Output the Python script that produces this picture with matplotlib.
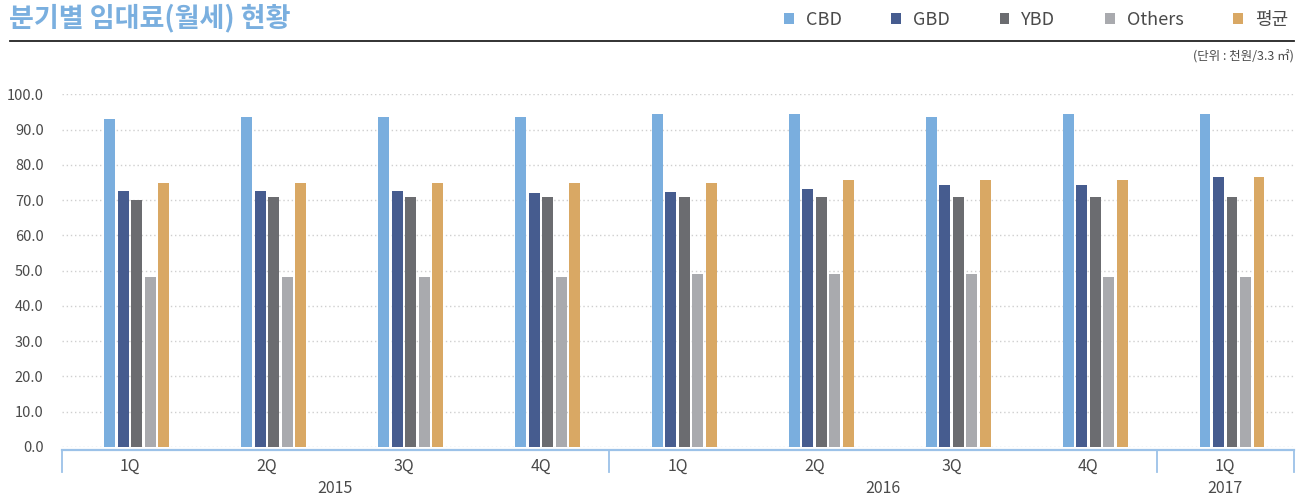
import numpy as np
import matplotlib
matplotlib.use('Agg')
import matplotlib.pyplot as plt
from matplotlib.patches import Patch

plt.rcParams['font.family'] = ['Noto Sans CJK KR', 'DejaVu Sans']

quarters = ['1Q', '2Q', '3Q', '4Q', '1Q', '2Q', '3Q', '4Q', '1Q']
years = ['2015', '2016', '2017']
year_spans = [(0, 3), (4, 7), (8, 8)]

series_names = ['CBD', 'GBD', 'YBD', 'Others', '평균']
cbd = [93.0, 93.6, 93.6, 93.6, 94.4, 94.4, 93.6, 94.4, 94.4]
gbd = [72.6, 72.6, 72.6, 72.0, 72.3, 73.2, 74.3, 74.3, 76.6]
ybd = [70.0, 70.9, 70.9, 70.9, 70.9, 70.9, 70.9, 70.9, 70.9]
others = [48.2, 48.2, 48.2, 48.2, 49.0, 49.0, 49.0, 48.2, 48.2]
avg = [74.9, 74.9, 74.9, 74.9, 74.9, 75.7, 75.7, 75.7, 76.6]

colors = ['#7aaede', '#465c8f', '#6b6c70', '#a9aaae', '#d9a864']
axis_blue = '#9cc2e8'
text_col = '#4a4a4a'

W, H = 1306, 497
fig = plt.figure(figsize=(W / 100, H / 100), dpi=100)
ax = fig.add_axes([61.7 / W, (H - 447) / H, (1293.7 - 61.7) / W, 352.7 / H])

x = np.arange(len(quarters))
slot = 0.0986
bar_w = 0.080
for j, (vals, c) in enumerate(zip([cbd, gbd, ybd, others, avg], colors)):
    # six slots per quarter, first one left empty
    ax.bar(x + (j + 1 - 2.5) * slot, vals, width=bar_w, color=c, zorder=3)

ax.set_xlim(-0.5, len(quarters) - 0.5)
ax.set_ylim(0, 100)
ax.set_yticks(np.arange(0, 101, 10))
ax.set_yticklabels([f'{v:.1f}' for v in np.arange(0, 101, 10)],
                   fontsize=10.5, color=text_col)
ax.set_xticks(x)
ax.set_xticklabels(quarters, fontsize=11.5, color=text_col)
ax.tick_params(axis='both', length=0)
ax.tick_params(axis='y', pad=13)
ax.tick_params(axis='x', pad=8)
for s in ax.spines.values():
    s.set_visible(False)
ax.grid(axis='y', color='#cfcfcf', linestyle=(0, (1, 2)), linewidth=1, zorder=0)

# category box under the plot
tr = ax.get_xaxis_transform()
ax.plot([-0.5, len(quarters) - 0.5], [-0.008, -0.008], color=axis_blue,
        lw=1.6, transform=tr, clip_on=False)
for sep in [-0.5, 3.5, 7.5, 8.5]:
    ax.plot([sep, sep], [-0.008, -0.072], color=axis_blue, lw=1.3,
            transform=tr, clip_on=False)
for yr, (a, b) in zip(years, year_spans):
    ax.text((a + b) / 2, -0.117, yr, transform=tr, ha='center', va='center',
            fontsize=11.5, color=text_col)

# header
fig.text(9 / W, 1 - 18 / H, '분기별 임대료(월세) 현황', fontsize=19.5,
         fontweight='bold', color='#7aafdf', ha='left', va='center')
fig.add_artist(plt.Line2D([10 / W, 1294 / W], [1 - 41 / H, 1 - 41 / H],
                          color='#222222', lw=1.3))
fig.text(1294 / W, 1 - 57 / H, '(단위 : 천원/3.3 ㎡)', fontsize=9,
         color=text_col, ha='right', va='center')

handles = [Patch(facecolor=c, edgecolor='none') for c in colors]
leg = fig.legend(handles, series_names, loc='center right',
                 bbox_to_anchor=(1288 / W, 1 - 20 / H), ncol=5, frameon=False,
                 fontsize=13, handlelength=0.55, handleheight=0.55,
                 handletextpad=0.65, columnspacing=2.75, borderpad=0,
                 borderaxespad=0)
for t in leg.get_texts():
    t.set_color(text_col)

fig.savefig('out.png', dpi=100)
